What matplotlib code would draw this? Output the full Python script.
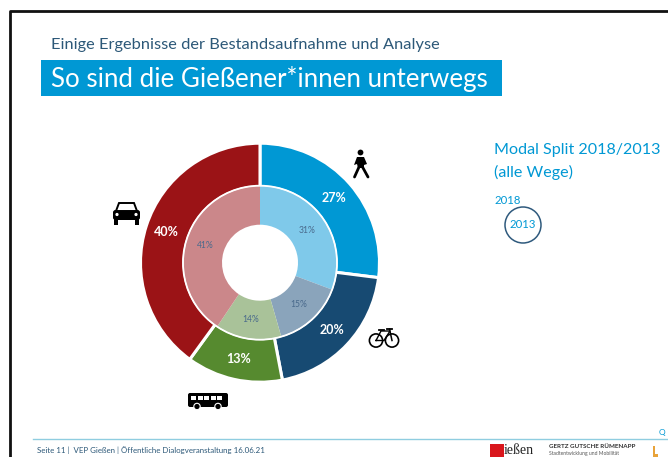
import numpy as np
import matplotlib
matplotlib.use('Agg')
import matplotlib.pyplot as plt
from matplotlib.patches import Rectangle, Circle, FancyBboxPatch, Polygon

plt.rcParams['font.family'] = ['Lato', 'DejaVu Sans']

# Datos
modos = ['Fuss', 'Rad', 'OEV', 'MIV']
werte_2018 = [27, 20, 13, 40]
werte_2013 = [31, 15, 14, 41]
farben_2018 = ['#0098d4', '#174a72', '#568a2f', '#9b1316']
farben_2013 = ['#7fc9ea', '#8aa4bb', '#a9c299', '#cb878a']
titel = 'So sind die Gießener*innen unterwegs'
untertitel = 'Einige Ergebnisse der Bestandsaufnahme und Analyse'
fusszeile = 'Seite 11 |  VEP Gießen | Öffentliche Dialogveranstaltung 16.06.21'

BLAU = '#0098d4'
W, H = 668, 457
fig = plt.figure(figsize=(W / 100, H / 100), dpi=100, facecolor='white')

# Ejes de fondo en pixeles
bg = fig.add_axes([0, 0, 1, 1])
bg.set_xlim(0, W)
bg.set_ylim(H, 0)
bg.axis('off')

# Marco negro
bg.plot([9.5, 9.5, W], [H, 10.5, 10.5], color='#111111', lw=2, solid_capstyle='butt')

# Cabecera
bg.text(51, 45, untertitel, fontsize=11.8, color='#2c5878', va='center')
bg.add_patch(Rectangle((41, 60), 461, 36, color=BLAU, lw=0))
bg.text(51, 78.5, titel, fontsize=18.6, color='white', va='center')

# Anillos
R = 119.5
cx, cy = 260, 262.7
ax = fig.add_axes([(cx - R * 1.05) / W, 1 - (cy + R * 1.05) / H, 2.1 * R / W, 2.1 * R / H])
ax.set_xlim(-1.05, 1.05)
ax.set_ylim(-1.05, 1.05)
ax.axis('off')

aussen, _ = ax.pie(werte_2018, colors=farben_2018, startangle=90, counterclock=False, radius=1.0,
                   wedgeprops=dict(width=1 - 76 / R, edgecolor='white', linewidth=2.2))
innen, _ = ax.pie(werte_2013, colors=farben_2013, startangle=90, counterclock=False, radius=76.5 / R,
                  wedgeprops=dict(width=38.5 / R, edgecolor='none'))
ax.add_patch(Circle((0, 0), 77 / R, fill=False, ec='white', lw=1.3))
ax.set_xlim(-1.05, 1.05)
ax.set_ylim(-1.05, 1.05)

for w, v in zip(aussen, werte_2018):
    a = np.radians((w.theta1 + w.theta2) / 2)
    ax.text(0.825 * np.cos(a), 0.825 * np.sin(a), f'{v}%', color='white', fontsize=9,
            fontweight='bold', ha='center', va='center')
for w, v in zip(innen, werte_2013):
    a = np.radians((w.theta1 + w.theta2) / 2)
    ax.text(0.48 * np.cos(a), 0.48 * np.sin(a), f'{v}%', color='#4a6a8c', fontsize=6.2,
            ha='center', va='center')

# Leyenda
bg.text(494, 150, 'Modal Split 2018/2013', fontsize=11.6, color=BLAU, va='center')
bg.text(494, 172, '(alle Wege)', fontsize=11.6, color=BLAU, va='center')
bg.text(494, 201, '2018', fontsize=8.2, color=BLAU, va='center')
bg.add_patch(Circle((523, 225), 18, fill=False, ec='#2f5a7d', lw=1.1))
bg.text(523, 225, '2013', fontsize=8.2, color=BLAU, ha='center', va='center')

# Peaton
bg.add_patch(Circle((360.5, 152.5), 2.9, color='black', lw=0))
bg.add_patch(Polygon([(357, 157), (364, 157), (367, 164), (364, 165), (364, 168),
                      (358, 168), (357, 164), (354, 165)], color='black', lw=0))
bg.plot([359, 354.5], [167, 177], color='black', lw=2, solid_capstyle='round')
bg.plot([362.5, 368], [167, 177], color='black', lw=2, solid_capstyle='round')

# Coche
bg.add_patch(FancyBboxPatch((113, 210), 27, 10, boxstyle='round,pad=0,rounding_size=2.5', color='black', lw=0))
bg.add_patch(Polygon([(116, 211), (119, 203), (134, 203), (137, 211)], closed=True, fc='white', ec='black', lw=1.4))
bg.add_patch(Rectangle((114, 219), 4, 6, color='black', lw=0))
bg.add_patch(Rectangle((135, 219), 4, 6, color='black', lw=0))
bg.add_patch(Circle((117, 214.5), 1.6, color='white', lw=0))
bg.add_patch(Circle((136, 214.5), 1.6, color='white', lw=0))

# Bus
bg.add_patch(FancyBboxPatch((188, 393), 40, 14, boxstyle='round,pad=0,rounding_size=2', color='black', lw=0))
for xv in [191, 197.5, 204, 210.5, 217]:
    bg.add_patch(Rectangle((xv, 395.5), 5, 4.5, color='white', lw=0))
for xv in [197, 218]:
    bg.add_patch(Circle((xv, 406.5), 3.2, fc='black', ec='white', lw=0.8))

# Bici
for xv in [376, 392]:
    bg.add_patch(Circle((xv, 340.5), 6.6, fill=False, ec='black', lw=1.2))
bg.plot([376, 381, 390, 384, 376], [340.5, 331, 331, 340.5, 340.5], color='black', lw=1)
bg.plot([392, 389.5], [340.5, 329], color='black', lw=1.1)
bg.plot([387, 392], [329, 329], color='black', lw=1.3)
bg.plot([378.5, 384], [329.5, 329.5], color='black', lw=1.3)

# Pie de pagina
bg.plot([33, W], [439, 439], color='#8fcde0', lw=1)
bg.text(37, 450.5, fusszeile, fontsize=5.7, color='#2c5878', va='center')
bg.text(659, 432, 'Q', fontsize=6, color=BLAU, va='center')
bg.add_patch(Rectangle((490, 444), 14, 13, color='#d9161c', lw=0))
bg.text(504, 450, 'Gießen'[1:], fontsize=10, family='Liberation Serif', color='#222222', va='center')
bg.text(549, 447, 'GERTZ GUTSCHE RÜMENAPP', fontsize=4.5, fontweight='bold', color='#333333', va='center')
bg.text(549, 453.5, 'Stadtentwicklung und Mobilität', fontsize=3.6, color='#555555', va='center')
bg.add_patch(Rectangle((653, 446), 1.5, 11, color='#e8a33a', lw=0))
bg.add_patch(Rectangle((655, 454), 3, 3, color='#e8a33a', lw=0))

fig.savefig('out.png', dpi=100)
plt.close()
